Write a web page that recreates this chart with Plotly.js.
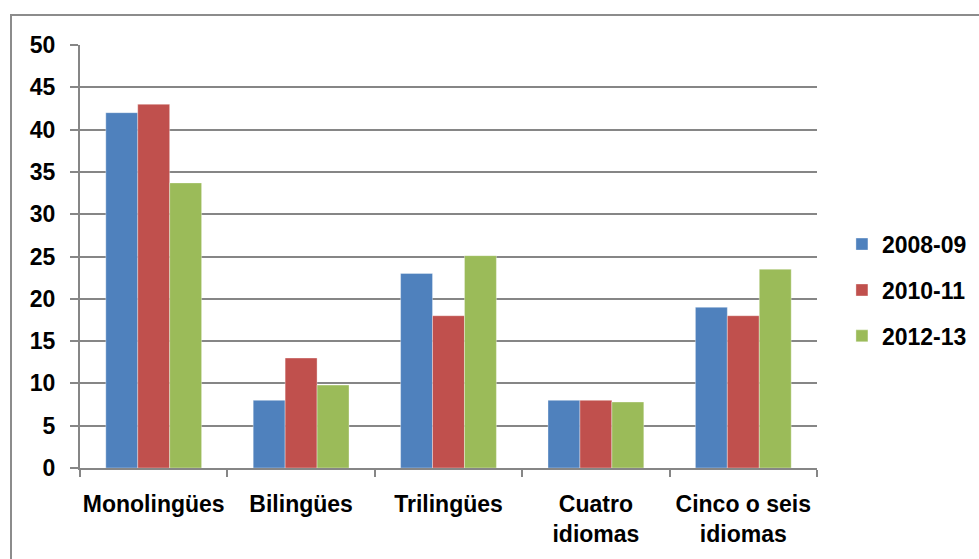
<!DOCTYPE html>
<html>
<head>
<meta charset="utf-8">
<script src="https://cdn.plot.ly/plotly-3.0.1.min.js"></script>
<style>
  html, body { margin: 0; padding: 0; background: #fff; }
  #wrap { position: relative; width: 979px; height: 559px; overflow: hidden; }
  #chart { position: absolute; left: 0; top: 0; width: 979px; height: 559px; }
  #frame { position: absolute; left: 10px; top: 14px; width: 1000px; height: 600px;
           border: 2px solid #8c8c8c; pointer-events: none; }
</style>
</head>
<body>
<div id="wrap">
  <div id="chart"></div>
  <div id="frame"></div>
</div>
<script>
const categories = ["Monolingües", "Bilingües", "Trilingües", "Cuatro<br>idiomas", "Cinco o seis<br>idiomas"];
const seriesNames = ["2008-09", "2010-11", "2012-13"];
const values2008 = [42, 8, 23, 8, 19];
const values2010 = [43, 13, 18, 8, 18];
const values2012 = [33.7, 9.8, 25.1, 7.8, 23.5];
const yTicks = [0, 5, 10, 15, 20, 25, 30, 35, 40, 45, 50];

const colors = ["#4F81BD", "#C0504D", "#9BBB59"];
const allValues = [values2008, values2010, values2012];
const font = "Liberation Sans, Arial, sans-serif";

const traces = allValues.map((vals, i) => ({
  type: "bar",
  name: seriesNames[i],
  x: categories,
  y: vals,
  legendgroup: "g" + i,
  marker: { color: colors[i], line: { color: "rgba(255,255,255,0.35)", width: 1 } },
  hoverinfo: "none"
}));

const layout = {
  width: 979,
  height: 559,
  margin: { l: 80, r: 162, t: 45, b: 91 },
  paper_bgcolor: "#ffffff",
  plot_bgcolor: "#ffffff",
  barmode: "group",
  bargap: 0.35,
  bargroupgap: 0,
  font: { family: font, size: 23, color: "#000" },
  showlegend: true,
  legend: {
    xref: "container", yref: "container",
    x: 0.86, xanchor: "left",
    y: 0.481, yanchor: "middle",
    traceorder: "grouped",
    tracegroupgap: 13,
    font: { family: font, size: 23, color: "#000", weight: "bold" },
    bgcolor: "rgba(0,0,0,0)"
  },
  xaxis: {
    type: "category",
    tickangle: 0,
    automargin: false,
    showline: true,
    linecolor: "#868686",
    linewidth: 2,
    ticks: "outside",
    tickson: "boundaries",
    ticklen: 7,
    tickcolor: "#868686",
    tickwidth: 2,
    showgrid: false,
    ticklabelstandoff: 14,
    tickfont: { family: font, size: 23, color: "#000", weight: "bold" }
  },
  yaxis: {
    range: [0, 50],
    automargin: false,
    tickvals: yTicks,
    ticktext: yTicks.map(String),
    showline: true,
    linecolor: "#868686",
    linewidth: 2,
    ticks: "outside",
    ticklen: 8,
    tickcolor: "#868686",
    tickwidth: 2,
    showgrid: true,
    gridcolor: "#868686",
    gridwidth: 2,
    zeroline: false,
    ticklabelstandoff: 10,
    tickfont: { family: font, size: 23, color: "#000", weight: "bold" }
  }
};

Plotly.newPlot("chart", traces, layout, { displayModeBar: false, staticPlot: true });
</script>
</body>
</html>
